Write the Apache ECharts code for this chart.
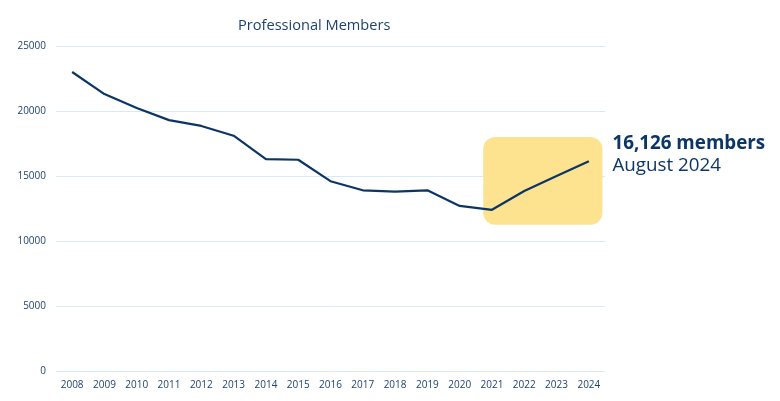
<!DOCTYPE html>
<html><head><meta charset="utf-8">
<script src="https://cdn.jsdelivr.net/npm/echarts@6/dist/echarts.min.js"></script>
<style>html,body{margin:0;padding:0;background:#fff}#c{width:780px;height:401px}</style>
</head><body><div id="c"></div>
<script>
const years = ['2008','2009','2010','2011','2012','2013','2014','2015','2016','2017','2018','2019','2020','2021','2022','2023','2024'];
const members = [23000,21300,20230,19300,18850,18100,16300,16250,14600,13900,13800,13900,12700,12400,13850,15000,16126];
const yTicks = [0,5000,10000,15000,20000,25000];
const highlightFrom = '2021', highlightTo = '2024';
const highlightRange = [11250, 18000];
const calloutValue = '16,126 members';
const calloutDate = 'August 2024';

const chart = echarts.init(document.getElementById('c'));
const navy = '#0b3566';
const txt = '#1e4270';
chart.setOption({
  animation:false,
  textStyle:{fontFamily:'Open Sans'},
  title:{text:'Professional Members',left:233,top:13,
    textStyle:{fontFamily:'Open Sans',fontSize:14.6,fontWeight:'normal',color:txt}},
  grid:{left:56,right:175,top:46,bottom:30},
  xAxis:{type:'category',data:years,boundaryGap:true,
    axisLine:{show:false},axisTick:{show:false},
    axisLabel:{color:txt,fontSize:10,margin:9}},
  yAxis:{type:'value',min:yTicks[0],max:yTicks[yTicks.length-1],interval:5000,
    axisLine:{show:false},axisTick:{show:false},
    axisLabel:{color:txt,fontSize:10,margin:10,formatter:v=>String(v)},
    splitLine:{lineStyle:{color:'#d8e9f8',width:1}}},
  series:[{type:'line',data:members,symbol:'none',z:5,
    lineStyle:{color:navy,width:2.2}}]
});

function drawOverlay(){
  const i0 = years.indexOf(highlightFrom), i1 = years.indexOf(highlightTo);
  const p0 = chart.convertToPixel({seriesIndex:0},[i0,highlightRange[1]]);
  const p1 = chart.convertToPixel({seriesIndex:0},[i1,highlightRange[0]]);
  const band = chart.convertToPixel({seriesIndex:0},[1,0])[0]-chart.convertToPixel({seriesIndex:0},[0,0])[0];
  const x0 = p0[0]-band*0.27, x1 = p1[0]+band*0.42;
  const last = chart.convertToPixel({seriesIndex:0},[i1,members[i1]]);
  chart.setOption({graphic:[
    {type:'rect',z:1,shape:{x:x0,y:p0[1],width:x1-x0,height:p1[1]-p0[1],r:12},
      style:{fill:'#fde290'}},
    {type:'text',z:10,x:x1+10,y:last[1]-18,style:{text:calloutValue,fill:'#0d3668',
      font:'bold 18.8px "Open Sans"',textVerticalAlign:'middle'}},
    {type:'text',z:10,x:x1+10,y:last[1]+4,style:{text:calloutDate,fill:'#0d3668',
      font:'18.8px "Open Sans"',textVerticalAlign:'middle'}}
  ]});
}
drawOverlay();
</script></body></html>
